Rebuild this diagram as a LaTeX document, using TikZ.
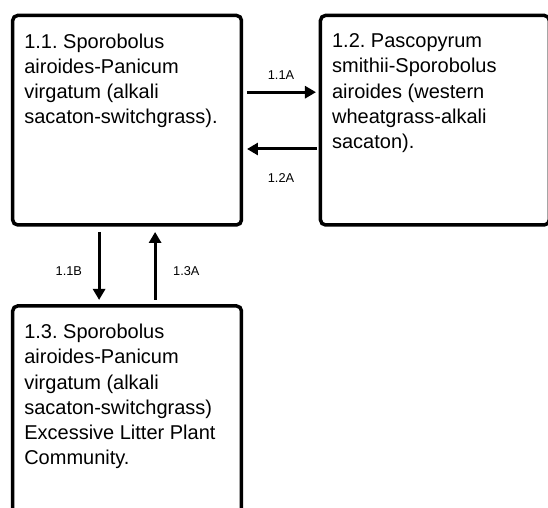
\documentclass[tikz,border=0pt]{standalone}
\usepackage{fontspec}
\setmainfont{Liberation Sans}
\usepackage{tikz}
\usetikzlibrary{arrows.meta, positioning}
\frenchspacing
\tikzstyle{recNode} = [rectangle, minimum width=114.4pt, minimum height=104.75pt, inner sep=0pt, outer sep=0pt, rounded corners=2.5pt, line width=1.75pt, draw=black]
\tikzstyle{txtNode} = [anchor=north west, inner sep=0pt, align=left, font=\fontsize{10pt}{12.6pt}\selectfont]
\tikzstyle{lblNode} = [inner sep=0pt, font=\fontsize{6.4pt}{7.7pt}\selectfont]
\tikzstyle{arrow} = [line width=1.5pt, -{Triangle[length=5.5pt, width=6pt]}, draw=black]

\begin{document}
\begin{tikzpicture}[node distance=145.25pt]
        \useasboundingbox (0,0) rectangle (274pt,-254pt);
        \clip (0,0) rectangle (274pt,-254pt);
        \node (b11) [recNode] at (63.55pt,-60.1pt) {};
        \node (b12) [recNode, right of=b11, xshift=8.65pt] {};
        \node (b13) [recNode, below of=b11] {};

        \node (t11) [txtNode] at ([xshift=5.6pt, yshift=-8.9pt]b11.north west) {1.1. Sporobolus\\airoides-Panicum\\virgatum (alkali\\sacaton-switchgrass).};
        \node (t12) [txtNode] at ([xshift=5.6pt, yshift=-8.9pt]b12.north west) {1.2. Pascopyrum\\smithii-Sporobolus\\airoides (western\\wheatgrass-alkali\\sacaton).};
        \node (t13) [txtNode] at ([xshift=5.6pt, yshift=-8.9pt]b13.north west) {1.3. Sporobolus\\airoides-Panicum\\virgatum (alkali\\sacaton-switchgrass)\\Excessive Litter Plant\\Community.};

        \draw [arrow, shorten <=2.75pt, shorten >=2.25pt] ([yshift=14pt]b11.east) -- node[lblNode, above=5.8pt] {1.1A} ([yshift=14pt]b12.west);
        \draw [arrow, shorten <=1.75pt, shorten >=2.75pt] ([yshift=-14.4pt]b12.west) -- node[lblNode, below=11.5pt] {1.2A} ([yshift=-14.4pt]b11.east);
        \draw [arrow, shorten <=3.5pt, shorten >=3pt] ([xshift=-14pt]b11.south) -- node[lblNode, left=7.8pt, yshift=-2.6pt] {1.1B} ([xshift=-14pt]b13.north);
        \draw [arrow, shorten <=3pt, shorten >=3.5pt] ([xshift=14pt]b13.north) -- node[lblNode, right=8.3pt, yshift=-2.6pt] {1.3A} ([xshift=14pt]b11.south);
    \end{tikzpicture}
\end{document}
